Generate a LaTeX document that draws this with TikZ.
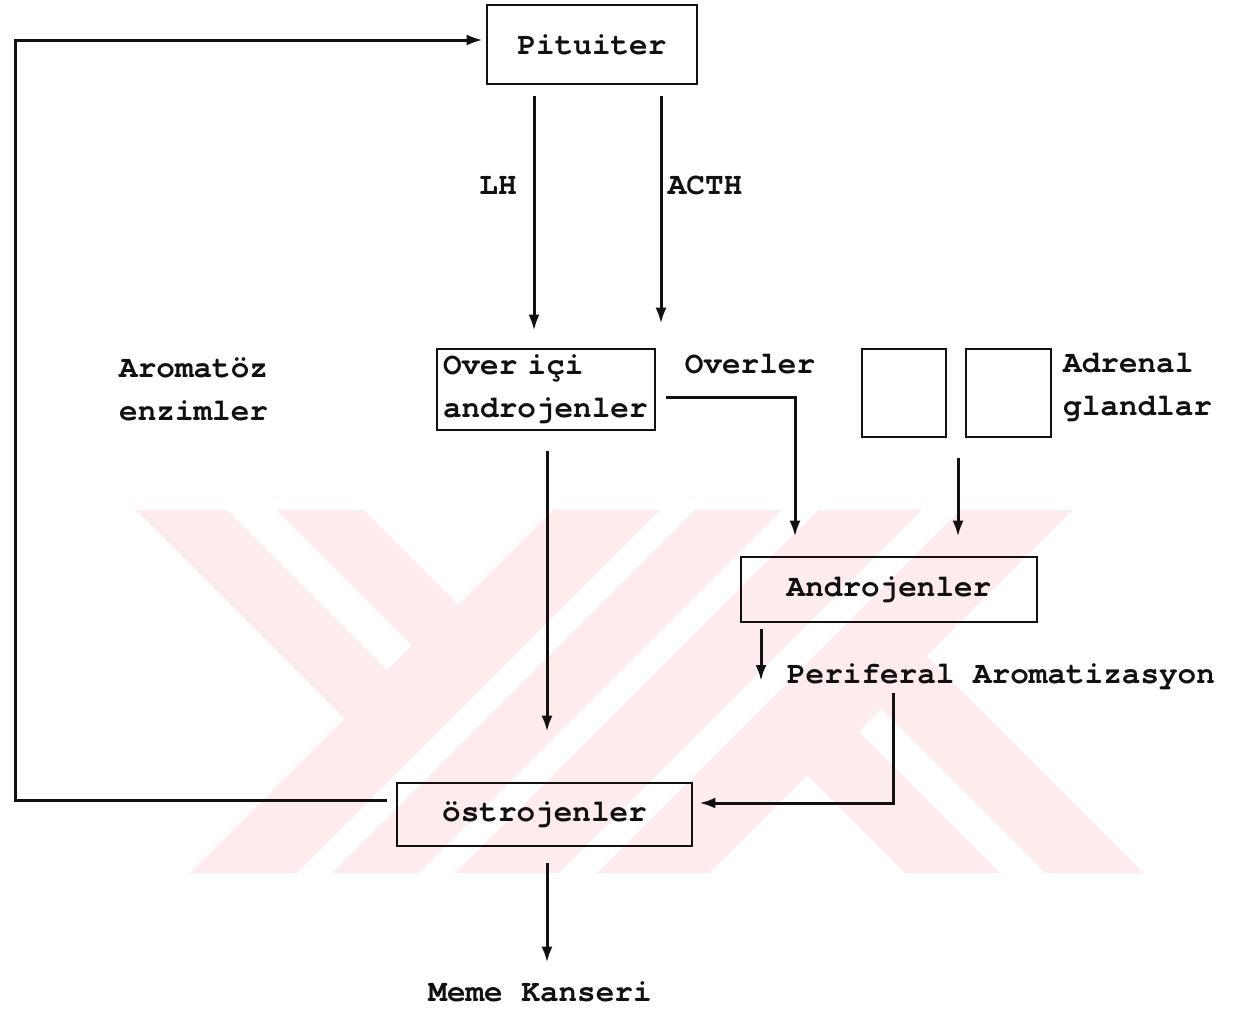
\documentclass[tikz,border=0pt]{standalone}
\usepackage{fontspec}
\newfontfamily\tw{TeX Gyre Cursor}
\usetikzlibrary{arrows.meta}
\definecolor{wmpink}{RGB}{253,235,238}
\definecolor{ink}{RGB}{17,17,17}
\begin{document}
\begin{tikzpicture}[x=1pt, y=-1pt, ink,
  font=\tw\bfseries\fontsize{31}{43}\selectfont,
  box/.style={draw, rectangle, inner sep=0pt, line width=2.7pt},
  lbl/.style={inner sep=0pt, align=left},
  arr/.style={-{Latex[length=16pt,width=11pt]}, line width=3pt}]
\useasboundingbox[fill=white] (0,0) rectangle (1236,1009);
% watermark
\begin{scope}
\clip (130,510) rectangle (1150,873);
\fill[wmpink] (553,510) -- (1072,510) -- (709,873) -- (190,873) -- cycle;
\fill[wmpink] (136,510) -- (364,510) -- (458.5,604.5) -- (344.5,718.5) -- cycle;
\fill[wmpink] (807,775) -- (926,656) -- (1143,873) -- (905,873) -- cycle;
\fill[white] (227,510) -- (277,510) -- (412,645) -- (387,670) -- cycle;
\fill[white] (858.5,731.5) -- (881,709) -- (1045,873) -- (1000,873) -- cycle;
\fill[white] (660,510) -- (695,510) -- (332,873) -- (297,873) -- cycle;
\fill[white] (782,510) -- (818,510) -- (455,873) -- (419,873) -- cycle;
\fill[white] (922,510) -- (960,510) -- (597,873) -- (559,873) -- cycle;
\end{scope}
% boxes
\node[box, minimum width=210pt, minimum height=79pt, text depth=-6pt] (pit) at (592,44.5) {Pituiter};
\node[box, minimum width=218pt, minimum height=81pt, text width=206pt, align=left, inner xsep=6pt] (over) at (546,389.5) {Over içi\\androjenler};
\node[box, minimum width=84pt, minimum height=88pt] (adrA) at (904,393) {};
\node[box, minimum width=85pt, minimum height=88pt] (adrB) at (1008.5,393) {};
\node[box, minimum width=296pt, minimum height=65pt] (andro) at (889,589.5) {Androjenler};
\node[box, minimum width=295pt, minimum height=63pt] (estro) at (544.5,814.5) {östrojenler};
% labels
\node[lbl] (lh) at (498,185) {LH};
\node[lbl] (acth) at (705,185) {ACTH};
\node[lbl] (overler) at (750,364) {Overler};
\node[lbl, anchor=west] (adrl) at (1063,387) {Adrenal\\glandlar};
\node[lbl, anchor=west] (arom) at (119,389) {Aromatöz\\enzimler};
\node[lbl] (periph) at (1001,677) {Periferal Aromatizasyon};
\node[lbl] (meme) at (540,992) {Meme Kanseri};
% connectors
\coordinate (xlh) at (534,0);
\coordinate (xacth) at (661,0);
\draw[arr, shorten <=11pt, shorten >=17pt] (pit.south -| xlh) -- (over.north -| xlh);
\draw[arr, shorten <=11pt, shorten >=24pt] (pit.south -| xacth) -- (over.north -| xacth);
\coordinate (b1) at (795,397);
\draw[arr, shorten <=10pt, shorten >=19pt] (over.east |- b1) -- (b1) -- (andro.north -| b1);
\coordinate (xadr) at (958,0);
\draw[arr, shorten <=20pt, shorten >=19pt] (adrA.south -| xadr) -- (andro.north -| xadr);
\coordinate (xper) at (761,0);
\draw[arr, shorten <=6pt, shorten >=-4pt] (andro.south -| xper) -- (periph.west -| xper);
\coordinate (b2) at (893,803);
\draw[arr, shorten <=3pt, shorten >=6pt] (periph.south -| b2) -- (b2) -- (estro.east |- b2);
\coordinate (xo) at (547,0);
\draw[arr, shorten <=20pt, shorten >=50pt] (over.south -| xo) -- (estro.north -| xo);
\draw[arr, shorten <=16pt, shorten >=19pt] (estro.south -| xo) -- (meme.north -| xo);
\coordinate (c1) at (15,800);
\coordinate (c2) at (15,40);
\draw[arr, shorten <=9pt, shorten >=3pt] (estro.west |- c1) -- (c1) -- (c2) -- (pit.west |- c2);
\end{tikzpicture}
\end{document}
